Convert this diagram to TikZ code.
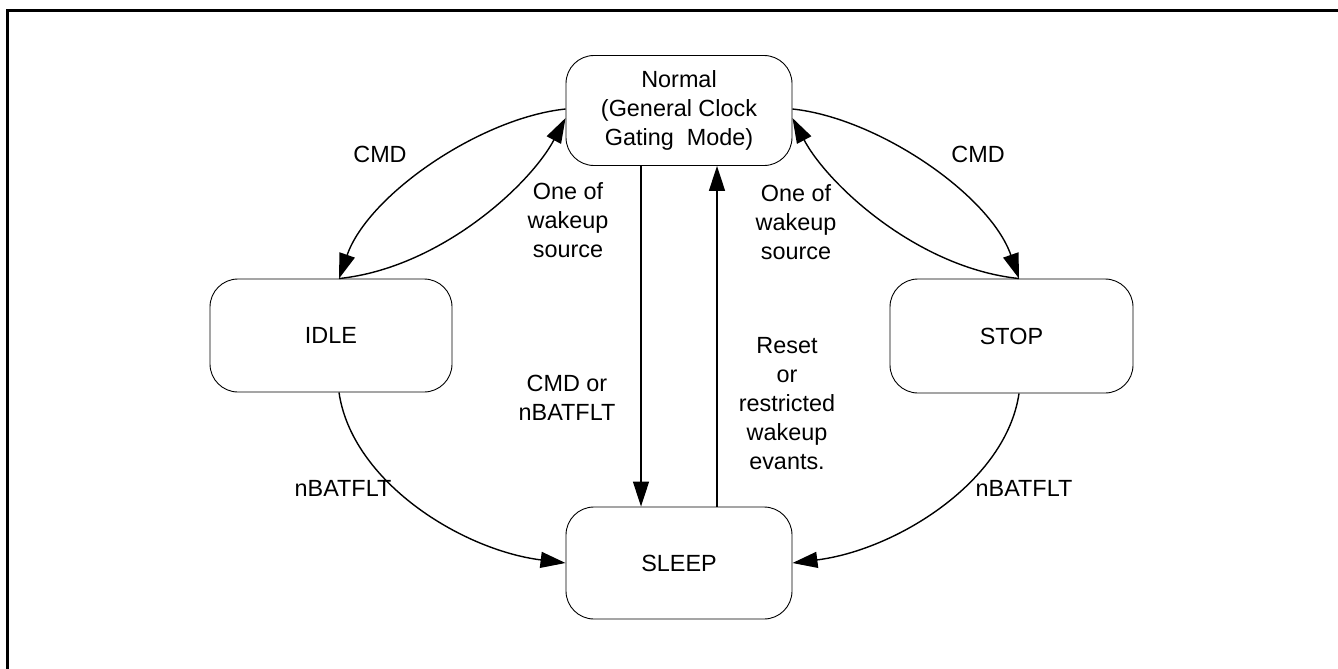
\documentclass[tikz,border=0pt]{standalone}
\usepackage{fontspec}
\setmainfont{Liberation Sans}
\usetikzlibrary{arrows.meta}
\tikzset{
  statebox/.style={draw=black, line width=0.9pt, rounded corners=28pt, inner sep=0pt, align=center, font=\fontsize{23.4}{29}\selectfont},
  lbl/.style={inner sep=0pt, align=center, font=\fontsize{23.4}{29}\selectfont},
  conn/.style={line width=1.4pt, -{Triangle[length=25pt,width=16pt]}},
  frameline/.style={line width=3pt}
}
\begin{document}
\begin{tikzpicture}[x=1pt,y=-1pt]
\useasboundingbox (0,0) rectangle (1338,669);
\fill[white] (0,0) rectangle (1338,669);
\draw[frameline] (7.5,669) -- (7.5,11) -- (1338,11);

% states
\node[statebox, minimum width=226pt, minimum height=110pt] (normal) at (679,110.5) {Normal\\(General Clock\\Gating\ \ Mode)};
\node[statebox, minimum width=242pt, minimum height=113pt] (idle) at (331,335.5) {IDLE};
\node[statebox, minimum width=243pt, minimum height=114pt] (stop) at (1011.5,336) {STOP};
\node[statebox, minimum width=226pt, minimum height=112pt] (sleep) at (679,563) {SLEEP};

% Normal <-> IDLE
\draw[conn] ([yshift=1.5pt]normal.west) .. controls (480,118) and (368,195) .. ([xshift=8pt]idle.north);
\draw[conn] ([xshift=8pt]idle.north) .. controls (440,268) and (530,185) .. ([yshift=-7.5pt]normal.west);
% Normal <-> STOP
\draw[conn] ([yshift=1.5pt]normal.east) .. controls (878,118) and (990,195) .. ([xshift=7.5pt]stop.north);
\draw[conn] ([xshift=7.5pt]stop.north) .. controls (918,268) and (828,185) .. ([yshift=-7.5pt]normal.east);
% Normal <-> SLEEP
\draw[conn] ([xshift=-38pt]normal.south) -- ([xshift=-38pt]sleep.north);
\draw[conn] ([xshift=38pt]sleep.north) -- ([xshift=38pt]normal.south);
% IDLE / STOP -> SLEEP
\draw[conn] ([xshift=8pt]idle.south) .. controls (352,482) and (462,550) .. (sleep.west);
\draw[conn] ([xshift=7.5pt]stop.south) .. controls (1006,482) and (896,550) .. (sleep.east);

% labels
\node[lbl] (l1) at (380,154) {CMD};
\node[lbl] (l2) at (568,220) {One of\\wakeup\\source};
\node[lbl] (l3) at (978,154) {CMD};
\node[lbl] (l4) at (796,222) {One of\\wakeup\\source};
\node[lbl] (l5) at (567,398) {CMD or\\nBATFLT};
\node[lbl] (l6) at (787,404) {Reset\\or\\restricted\\wakeup\\evants.};
\node[lbl] (l7) at (343,488) {nBATFLT};
\node[lbl] (l8) at (1024,488) {nBATFLT};
\end{tikzpicture}
\end{document}
